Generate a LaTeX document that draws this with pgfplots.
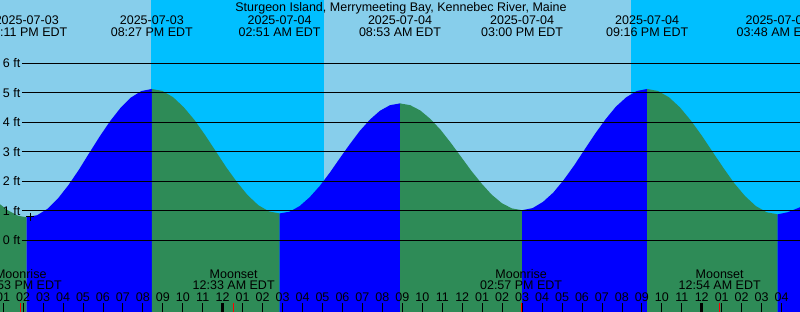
\documentclass[border=0pt]{standalone}
\usepackage{fontspec}
\setmainfont{Liberation Sans}
\usepackage{pgfplots}
\pgfplotsset{compat=1.18}
\definecolor{dayc}{RGB}{135,206,235}
\definecolor{nightc}{RGB}{0,191,255}
\definecolor{risec}{RGB}{0,0,255}
\definecolor{fallc}{RGB}{46,139,87}
\newcommand{\lbl}{\fontsize{12.5}{13}\selectfont}
\begin{document}
\begin{tikzpicture}
\useasboundingbox (0,0) rectangle (800pt,312pt);
\clip (0,0) rectangle (800pt,312pt);
\begin{axis}[at={(0,0)}, anchor=south west, scale only axis, width=800pt, height=312pt,
 xmin=-11.157, xmax=28.923, ymin=-2.431, ymax=8.146,
 axis x line*=bottom, axis y line=none, axis line style={draw=none},
 ytick=\empty,
 xtick={-11,...,28},
 xticklabels={01,02,03,04,05,06,07,08,09,10,11,12,01,02,03,04,05,06,07,08,09,10,11,12,01,02,03,04,05,06,07,08,09,10,11,12,01,02,03,04},
 tick align=inside, major tick length=8.7pt,
 major tick style={black, line width=0.8pt},
 xticklabel style={font=\lbl, anchor=base, yshift=10.3pt, inner sep=0pt},
 extra x ticks={0,24}, extra x tick labels={},
 extra x tick style={major tick style={black, line width=3.2pt}},
 axis on top]
% day / night background
\addplot[fill=dayc, draw=none] coordinates {(-11.157,-2.431) (-11.157,8.146) (28.923,8.146) (28.923,-2.431)};
\addplot[fill=nightc, draw=none] coordinates {(-3.592,-2.431) (-3.592,8.146) (5.075,8.146) (5.075,-2.431)};
\addplot[fill=nightc, draw=none] coordinates {(20.456,-2.431) (20.456,8.146) (28.923,8.146) (28.923,-2.431)};
% tide: falling (green) and rising (blue) segments
\addplot[fill=fallc, draw=none] coordinates {(-11.157,-2.431) (-11.157,1.22) (-10.75,1.01) (-10.25,0.83) (-9.817,0.78) (-9.817,-2.431)};
\addplot[fill=risec, draw=none] coordinates {(-9.817,-2.431) (-9.817,0.78) (-9.295,0.85) (-8.772,1.07) (-8.250,1.42) (-7.728,1.87) (-7.206,2.39) (-6.684,2.96) (-6.161,3.52) (-5.639,4.04) (-5.117,4.49) (-4.595,4.84) (-4.072,5.06) (-3.550,5.13) (-3.550,-2.431)};
\addplot[fill=fallc, draw=none] coordinates {(-3.550,-2.431) (-3.550,5.13) (-3.017,5.06) (-2.483,4.85) (-1.950,4.51) (-1.417,4.08) (-0.883,3.57) (-0.350,3.02) (0.183,2.47) (0.717,1.97) (1.250,1.53) (1.783,1.19) (2.317,0.98) (2.850,0.91) (2.850,-2.431)};
\addplot[fill=risec, draw=none] coordinates {(2.850,-2.431) (2.850,0.91) (3.353,0.97) (3.856,1.16) (4.358,1.46) (4.861,1.84) (5.364,2.29) (5.867,2.78) (6.370,3.26) (6.872,3.71) (7.375,4.09) (7.878,4.39) (8.381,4.58) (8.883,4.64) (8.883,-2.431)};
\addplot[fill=fallc, draw=none] coordinates {(8.883,-2.431) (8.883,4.64) (9.393,4.58) (9.902,4.40) (10.412,4.11) (10.922,3.74) (11.432,3.30) (11.942,2.83) (12.451,2.36) (12.961,1.93) (13.471,1.55) (13.981,1.26) (14.490,1.08) (15.000,1.02) (15.000,-2.431)};
\addplot[fill=risec, draw=none] coordinates {(15.000,-2.431) (15.000,1.02) (15.522,1.09) (16.044,1.30) (16.567,1.62) (17.089,2.05) (17.611,2.54) (18.133,3.08) (18.656,3.61) (19.178,4.10) (19.700,4.53) (20.222,4.85) (20.745,5.06) (21.267,5.13) (21.267,-2.431)};
\addplot[fill=fallc, draw=none] coordinates {(21.267,-2.431) (21.267,5.13) (21.811,5.06) (22.356,4.85) (22.900,4.51) (23.444,4.07) (23.989,3.56) (24.533,3.01) (25.078,2.46) (25.622,1.94) (26.167,1.50) (26.711,1.16) (27.256,0.95) (27.800,0.88) (27.800,-2.431)};
\addplot[fill=risec, draw=none] coordinates {(27.800,-2.431) (27.800,0.88) (28.300,0.95) (28.923,1.12) (28.923,-2.431)};
% level lines and labels
\pgfplotsinvokeforeach{0,...,6}{
 \addplot[black, line width=1pt] coordinates {(-10.055,#1) (28.923,#1)};
 \node[anchor=west, xshift=2.7pt, inner sep=0pt, font=\lbl] at (axis cs:-11.157,#1) {#1 ft};
}
% current-time mark
\addplot[only marks, mark=+, mark size=4pt, black, line width=0.8pt] coordinates {(-9.65,0.80)};
% moon event ticks
\addplot[red, line width=0.8pt] coordinates {(-10.117,-2.431) (-10.117,-2.136)};
\addplot[red, line width=0.8pt] coordinates {(0.55,-2.431) (0.55,-2.136)};
\addplot[red, line width=0.8pt] coordinates {(14.95,-2.431) (14.95,-2.136)};
\addplot[red, line width=0.8pt] coordinates {(24.9,-2.431) (24.9,-2.136)};
% title
\node[anchor=base, font=\lbl] at (axis cs:8.933,7.756) {Sturgeon Island, Merrymeeting Bay, Kennebec River, Maine};
% high / low labels
\node[anchor=base, font=\lbl] at (axis cs:-9.817,7.329) {2025-07-03};
\node[anchor=base, font=\lbl] at (axis cs:-9.817,6.922) {02:11 PM EDT};
\node[anchor=base, font=\lbl] at (axis cs:-3.550,7.329) {2025-07-03};
\node[anchor=base, font=\lbl] at (axis cs:-3.550,6.922) {08:27 PM EDT};
\node[anchor=base, font=\lbl] at (axis cs:2.850,7.329) {2025-07-04};
\node[anchor=base, font=\lbl] at (axis cs:2.850,6.922) {02:51 AM EDT};
\node[anchor=base, font=\lbl] at (axis cs:8.883,7.329) {2025-07-04};
\node[anchor=base, font=\lbl] at (axis cs:8.883,6.922) {08:53 AM EDT};
\node[anchor=base, font=\lbl] at (axis cs:15.000,7.329) {2025-07-04};
\node[anchor=base, font=\lbl] at (axis cs:15.000,6.922) {03:00 PM EDT};
\node[anchor=base, font=\lbl] at (axis cs:21.267,7.329) {2025-07-04};
\node[anchor=base, font=\lbl] at (axis cs:21.267,6.922) {09:16 PM EDT};
\node[anchor=base, font=\lbl] at (axis cs:27.800,7.329) {2025-07-05};
\node[anchor=base, font=\lbl] at (axis cs:27.800,6.922) {03:48 AM EDT};
% moon labels
\node[anchor=base, font=\lbl] at (axis cs:-10.117,-1.288) {Moonrise};
\node[anchor=base, font=\lbl] at (axis cs:-10.117,-1.685) {01:53 PM EDT};
\node[anchor=base, font=\lbl] at (axis cs:0.55,-1.288) {Moonset};
\node[anchor=base, font=\lbl] at (axis cs:0.55,-1.685) {12:33 AM EDT};
\node[anchor=base, font=\lbl] at (axis cs:14.95,-1.288) {Moonrise};
\node[anchor=base, font=\lbl] at (axis cs:14.95,-1.685) {02:57 PM EDT};
\node[anchor=base, font=\lbl] at (axis cs:24.9,-1.288) {Moonset};
\node[anchor=base, font=\lbl] at (axis cs:24.9,-1.685) {12:54 AM EDT};
\end{axis}
\end{tikzpicture}
\end{document}
